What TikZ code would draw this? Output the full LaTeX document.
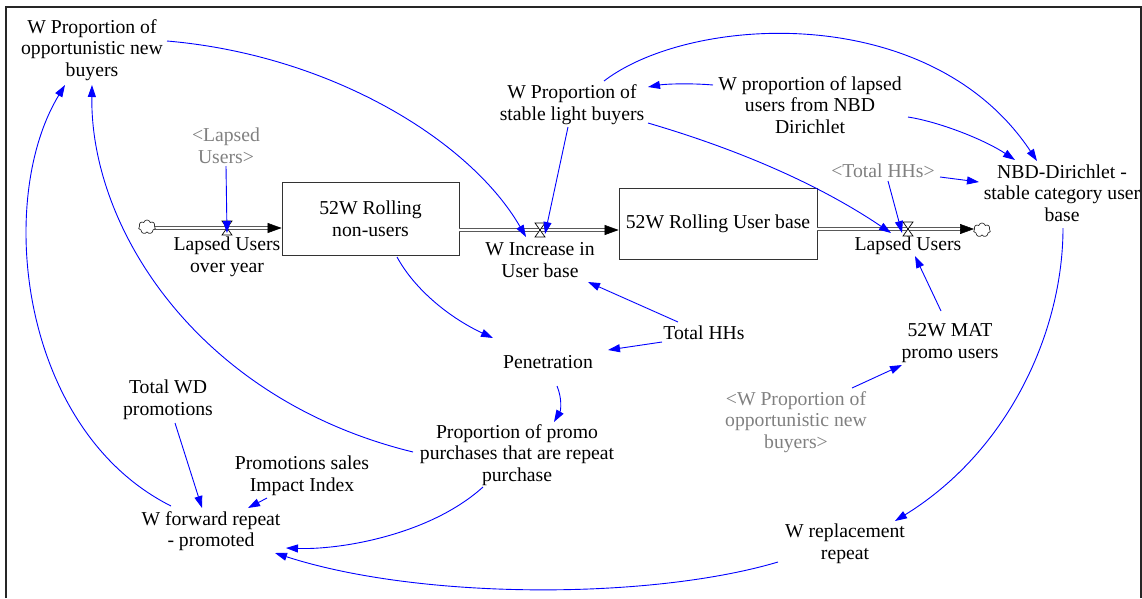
\documentclass[tikz,border=0pt]{standalone}
\usepackage{fontspec}
\setmainfont{Liberation Serif}
\usetikzlibrary{arrows.meta,calc,shapes.symbols}
\definecolor{linkblue}{RGB}{0,0,255}
\definecolor{refgray}{RGB}{128,128,128}
\begin{document}
\begin{tikzpicture}[x=1pt,y=1pt,
  lbl/.style={font=\rmfamily\fontsize{19.7}{21.7}\selectfont, align=center, inner sep=1pt},
  shadow/.style={lbl, text=refgray},
  stock/.style={lbl, draw=black!80, line width=0.8pt, inner sep=0pt},
  link/.style={draw=linkblue, line width=0.9pt, -{Triangle[length=12pt,width=8pt]}},
  pipe/.style={draw=black!65, line width=1.3pt, double=white, double distance=2.2pt},
  pipehead/.style={-{Triangle[length=14pt,width=10pt]}, line width=0.5pt, draw=black},
  valve/.style={draw=black, fill=white, line width=0.7pt},
  sink/.style={cloud, cloud puffs=7, draw=black!80, line width=0.7pt, minimum width=17pt, minimum height=14pt, inner sep=0pt, fill=white}
]
\useasboundingbox (0,0) rectangle (1142,-598);
% frame
\draw[line width=2pt, black!85] (5.5,-598) -- (5.5,-7) -- (1141,-7) -- (1141,-598);

% nodes
\node[lbl] (opp) at (92,-50) {W Proportion of\\opportunistic new\\buyers};
\node[shadow] (lapsedref) at (226,-146) {<Lapsed\\Users>};
\node[stock, minimum width=177pt, minimum height=73pt] (nonusers) at (370.5,-218.5) {52W Rolling\\non-users};
\node[stock, minimum width=198pt, minimum height=71pt] (userbase) at (718,-223.5) {52W Rolling User base};
\node[lbl] (lapsedover) at (227,-257) {Lapsed Users\\over year};
\node[lbl] (inc) at (540,-260) {W Increase in\\User base};
\node[lbl] (lapsed) at (908,-246) {Lapsed Users};
\node[lbl] (stable) at (572,-105) {W Proportion of\\stable light buyers};
\node[lbl] (lapsednbd) at (810,-105) {W proportion of lapsed\\users from NBD\\Dirichlet};
\node[shadow] (totalref) at (883,-171) {<Total HHs>};
\node[lbl] (nbd) at (1062,-193) {NBD-Dirichlet -\\stable category user\\base};
\node[lbl] (totalhh) at (704,-333) {Total HHs};
\node[lbl] (pen) at (548,-362) {Penetration};
\node[lbl] (mat) at (950,-343) {52W MAT\\promo users};
\node[shadow] (oppref) at (796,-422) {<W Proportion of\\opportunistic new\\buyers>};
\node[lbl] (prom) at (517,-455) {Proportion of promo\\purchases that are repeat\\purchase};
\node[lbl] (totalwd) at (168,-400) {Total WD\\promotions};
\node[lbl] (promsales) at (302,-476) {Promotions sales\\Impact Index};
\node[lbl] (fwd) at (211,-531) {W forward repeat\\- promoted};
\node[lbl] (repl) at (845,-544) {W replacement\\repeat};

% clouds and valves positions
\coordinate (v1) at (227,-228);
\coordinate (v2) at (540,-230);
\coordinate (v3) at (908,-229);
\coordinate (p1a) at (148,-228);
\coordinate (p1b) at (v1 -| nonusers.west);
\coordinate (p2a) at (v2 -| nonusers.east);
\coordinate (p2b) at (v2 -| userbase.west);
\coordinate (p3a) at (v3 -| userbase.east);
\coordinate (p3b) at (974,-229);

% pipes
\draw[pipe] (p1a) -- ($(p1b)+(-12,0)$);
\draw[pipehead] ($(p1b)+(-14,0)$) -- (p1b);
\draw[pipe] (p2a) -- ($(p2b)+(-12,0)$);
\draw[pipehead] ($(p2b)+(-14,0)$) -- (p2b);
\draw[pipe] (p3a) -- ($(p3b)+(-12,0)$);
\draw[pipehead] ($(p3b)+(-14,0)$) -- (p3b);
\node[sink] (c1) at (147,-227) {};
\node[sink] (c2) at (982,-230) {};

% valves
\foreach \v in {v1,v2,v3}{
  \draw[valve] ($(\v)+(-5,7)$) -- ($(\v)+(5,7)$) -- ($(\v)+(-5,-7)$) -- ($(\v)+(5,-7)$) -- cycle;
}

% links
\draw[link] ($(opp)+(75,9)$) .. controls (330,-55) and (470,-140) .. ($(v2)+(-14,-7)$);
\draw[link] ($(fwd)+(-40,25)$) .. controls (20,-430) and (-5,-200) .. ($(opp)+(-27,-35)$);
\draw[link] ($(prom)+(-104,3)$) .. controls (200,-400) and (90,-230) .. ($(opp)+(0,-35)$);
\draw[link] ($(lapsedref)+(0,-20)$) -- ($(v1)+(0,-5)$);
\draw[link] ($(stable)+(-4,-22)$) -- ($(v2)+(5,-4)$);
\draw[link] ($(stable)+(76,-18)$) .. controls (740,-150) and (820,-185) .. ($(v3)+(-17,-4)$);
\draw[link] ($(stable)+(32,24)$) .. controls (690,-15) and (930,0) .. ($(nbd)+(-25,32)$);
\draw[link] ($(lapsednbd)+(-97,20)$) .. controls (690,-83) and (665,-84) .. ($(stable)+(76,18)$);
\draw[link] ($(lapsednbd)+(98,-12)$) .. controls (940,-122) and (985,-140) .. ($(nbd)+(-47,33)$);
\draw[link] ($(totalref)+(57,-6)$) -- ($(nbd)+(-83,11)$);
\draw[link] ($(totalref)+(5,-10)$) -- ($(v3)+(-6,-4)$);
\draw[link] ($(mat)+(-9,32)$) -- ($(lapsed)+(7,-10)$);
\draw[link] ($(oppref)+(56,34)$) -- ($(mat)+(-48,-22)$);
\draw[link] ($(nbd)+(1,-35)$) .. controls (1063,-330) and (1010,-450) .. ($(repl)+(50,23)$);
\draw[link] ($(repl)+(-67,-18)$) .. controls (650,-600) and (420,-600) .. ($(fwd)+(64,-22)$);
\draw[link] ($(prom)+(-34,-32)$) .. controls (430,-535) and (340,-550) .. ($(fwd)+(75,-17)$);
\draw[link] ($(totalwd)+(7,-23)$) -- ($(fwd)+(-9,23)$);
\draw[link] ($(promsales)+(-35,-22)$) -- ($(fwd)+(37,23)$);
\draw[link] ($(nonusers)+(26.5,-38.5)$) .. controls (415,-290) and (450,-318) .. ($(pen)+(-55,24)$);
\draw[link] ($(totalhh)+(-42,-9)$) -- ($(pen)+(60,12)$);
\draw[link] ($(totalhh)+(-26,11)$) -- ($(inc)+(48,-22)$);
\draw[link] ($(pen)+(9,-24)$) .. controls (562,-398) and (561,-410) .. ($(prom)+(37,33)$);
\end{tikzpicture}
\end{document}
